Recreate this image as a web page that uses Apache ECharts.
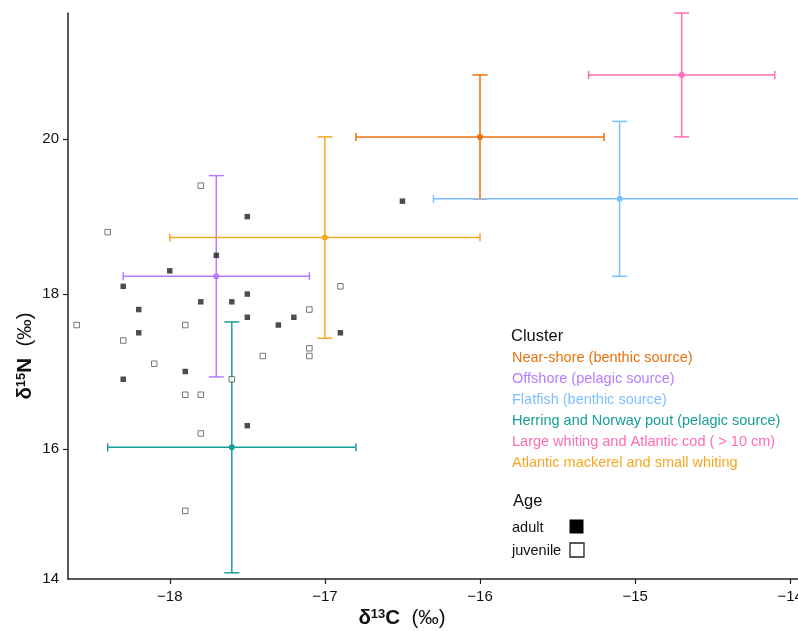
<!DOCTYPE html>
<html>
<head>
<meta charset="UTF-8">
<title>Isotope clusters</title>
<script src="https://cdn.jsdelivr.net/npm/echarts@6/dist/echarts.min.js"></script>
<style>
  html, body { margin: 0; padding: 0; background: #fff; }
  #main { width: 798px; height: 631px; }
</style>
</head>
<body>
<div id="main"></div>
<script>
// individual fish, [d13C, d15N]
var adultPoints = [
    [-17.7, 18.5], [-18.0, 18.3], [-18.3, 18.1], [-17.8, 17.9], [-17.6, 17.9],
    [-18.2, 17.8], [-18.2, 17.5], [-17.5, 19.0], [-16.5, 19.2], [-17.5, 18.0],
    [-17.5, 17.7], [-17.2, 17.7], [-17.3, 17.6], [-16.9, 17.5], [-17.9, 17.0],
    [-18.3, 16.9], [-17.5, 16.3]
];
var juvenilePoints = [
    [-17.8, 19.4], [-18.4, 18.8], [-18.6, 17.6], [-17.9, 17.6], [-16.9, 18.1],
    [-17.1, 17.8], [-18.3, 17.4], [-18.1, 17.1], [-17.6, 16.9], [-17.9, 16.7],
    [-17.8, 16.7], [-17.8, 16.2], [-17.9, 15.2], [-17.1, 17.3], [-17.1, 17.2],
    [-17.4, 17.2]
];

// cluster means and spread
var clusterNames = [
    'Near-shore (benthic source)',
    'Offshore (pelagic source)',
    'Flatfish (benthic source)',
    'Herring and Norway pout (pelagic source)',
    'Large whiting and Atlantic cod ( > 10 cm)',
    'Atlantic mackerel and small whiting'
];
var clusterMeanC = [-16.0, -17.7, -15.1, -17.6, -14.7, -17.0];
var clusterMeanN = [20.03, 18.23, 19.23, 16.02, 20.83, 18.73];
var clusterErrC = [0.8, 0.6, 1.2, 0.8, 0.6, 1.0];
var clusterErrN = [0.8, 1.3, 1.0, 1.62, 0.8, 1.3];

var xTicks = [-18, -17, -16, -15, -14];
var yTicks = [16, 18, 20];
var ageNames = ['adult', 'juvenile'];

var clusterColors = ['#E8720C', '#B77BFF', '#7DBFFF', '#179E97', '#FF6DB4', '#F4A823'];
var font = 'Liberation Sans, Arial, Helvetica, sans-serif';

var xMin = -18.656, xMax = -13.95;
var yMin = 14.32, yMax = 21.63;

var clusterData = clusterNames.map(function (n, i) {
    return [clusterMeanC[i], clusterMeanN[i], clusterErrC[i], clusterErrN[i], i];
});

function renderBar(params, api) {
    var cx = api.value(0), cy = api.value(1);
    var ex = api.value(2), ey = api.value(3);
    var col = clusterColors[api.value(4)];
    var c = api.coord([cx, cy]);
    var l = api.coord([cx - ex, cy]);
    var r = api.coord([cx + ex, cy]);
    var t = api.coord([cx, cy + ey]);
    var b = api.coord([cx, cy - ey]);
    var st = { stroke: col, lineWidth: 1.5 };
    var capW = 7.5, capH = 4;
    return {
        type: 'group',
        children: [
            { type: 'line', shape: { x1: l[0], y1: l[1], x2: r[0], y2: r[1] }, style: st },
            { type: 'line', shape: { x1: t[0], y1: t[1], x2: b[0], y2: b[1] }, style: st },
            { type: 'line', shape: { x1: l[0], y1: l[1] - capH, x2: l[0], y2: l[1] + capH }, style: st },
            { type: 'line', shape: { x1: r[0], y1: r[1] - capH, x2: r[0], y2: r[1] + capH }, style: st },
            { type: 'line', shape: { x1: t[0] - capW, y1: t[1], x2: t[0] + capW, y2: t[1] }, style: st },
            { type: 'line', shape: { x1: b[0] - capW, y1: b[1], x2: b[0] + capW, y2: b[1] }, style: st },
            { type: 'circle', shape: { cx: c[0], cy: c[1], r: 3 }, style: { fill: col } }
        ]
    };
}

var legendX = 512, legendY0 = 358, legendStep = 20.9;
var titleRich = {
    d: { font: 'bold 20.5px ' + font, fill: '#111' },
    s: { font: 'bold 13px ' + font, fill: '#111', verticalAlign: 'top', padding: [0, 0, 8, 0] },
    b: { font: 'bold 20.5px ' + font, fill: '#111' },
    p: { font: '20.5px ' + font, fill: '#111' }
};
var graphics = [
    { type: 'text', x: 511, y: 336, style: { text: 'Cluster', font: '16.5px ' + font, fill: '#111', textVerticalAlign: 'middle' } },
    { type: 'text', x: 513, y: 501, style: { text: 'Age', font: '16.5px ' + font, fill: '#111', textVerticalAlign: 'middle' } },
    { type: 'text', x: 512, y: 528, style: { text: ageNames[0], font: '14.5px ' + font, fill: '#111', textVerticalAlign: 'middle' } },
    { type: 'text', x: 512, y: 551, style: { text: ageNames[1], font: '14.5px ' + font, fill: '#111', textVerticalAlign: 'middle' } },
    { type: 'rect', shape: { x: 569.5, y: 519.5, width: 14, height: 14 }, style: { fill: '#000' } },
    { type: 'rect', shape: { x: 570, y: 543, width: 14, height: 14 }, style: { fill: '#fff', stroke: '#222', lineWidth: 1.3 } },
    // axis titles
    {
        type: 'text', x: 402, y: 618,
        style: { text: '{d|δ}{s|13}{b|C}{p|  (‰)}', align: 'center', verticalAlign: 'middle', rich: titleRich }
    },
    {
        type: 'text', x: 25, y: 356, rotation: Math.PI / 2,
        style: { text: '{d|δ}{s|15}{b|N}{p|  (‰)}', align: 'center', verticalAlign: 'middle', rich: titleRich }
    }
];
clusterNames.forEach(function (n, i) {
    graphics.push({
        type: 'text', x: legendX, y: legendY0 + i * legendStep,
        style: { text: n, font: '14.5px ' + font, fill: clusterColors[i], textVerticalAlign: 'middle' }
    });
});

var chart = echarts.init(document.getElementById('main'));
chart.setOption({
    animation: false,
    backgroundColor: '#fff',
    grid: { left: 68, right: 0, top: 13, bottom: 52, containLabel: false, outerBoundsMode: 'none' },
    xAxis: {
        type: 'value', min: xMin, max: xMax,
        splitLine: { show: false },
        axisLine: { onZero: false, lineStyle: { color: '#222', width: 1.5 } },
        axisTick: { customValues: xTicks, length: 5, lineStyle: { color: '#222', width: 1.2 } },
        axisLabel: {
            customValues: xTicks, margin: 10, fontSize: 15, fontFamily: font, color: '#111',
            hideOverlap: false,
            formatter: function (v) { return String(Math.round(v)).replace('-', '\u2212'); }
        }
    },
    yAxis: {
        type: 'value', min: yMin, max: yMax,
        splitLine: { show: false },
        axisLine: { onZero: false, lineStyle: { color: '#222', width: 1.5 } },
        axisTick: { customValues: yTicks, length: 5, lineStyle: { color: '#222', width: 1.2 } },
        axisLabel: {
            customValues: [yMin].concat(yTicks), margin: 9, fontSize: 15, fontFamily: font, color: '#111',
            formatter: function (v) { return String(Math.round(v)); }
        }
    },
    graphic: graphics,
    series: [
        {
            type: 'custom', name: 'clusters',
            renderItem: renderBar,
            data: clusterData,
            encode: { x: 0, y: 1 },
            clip: false,
            z: 2
        },
        {
            type: 'scatter', name: 'adult', data: adultPoints,
            symbol: 'rect', symbolSize: 5.5,
            itemStyle: { color: '#222' },
            z: 3
        },
        {
            type: 'scatter', name: 'juvenile', data: juvenilePoints,
            symbol: 'rect', symbolSize: 5.5,
            itemStyle: { color: '#fff', borderColor: '#555', borderWidth: 1 },
            z: 3
        }
    ]
});
</script>
</body>
</html>
